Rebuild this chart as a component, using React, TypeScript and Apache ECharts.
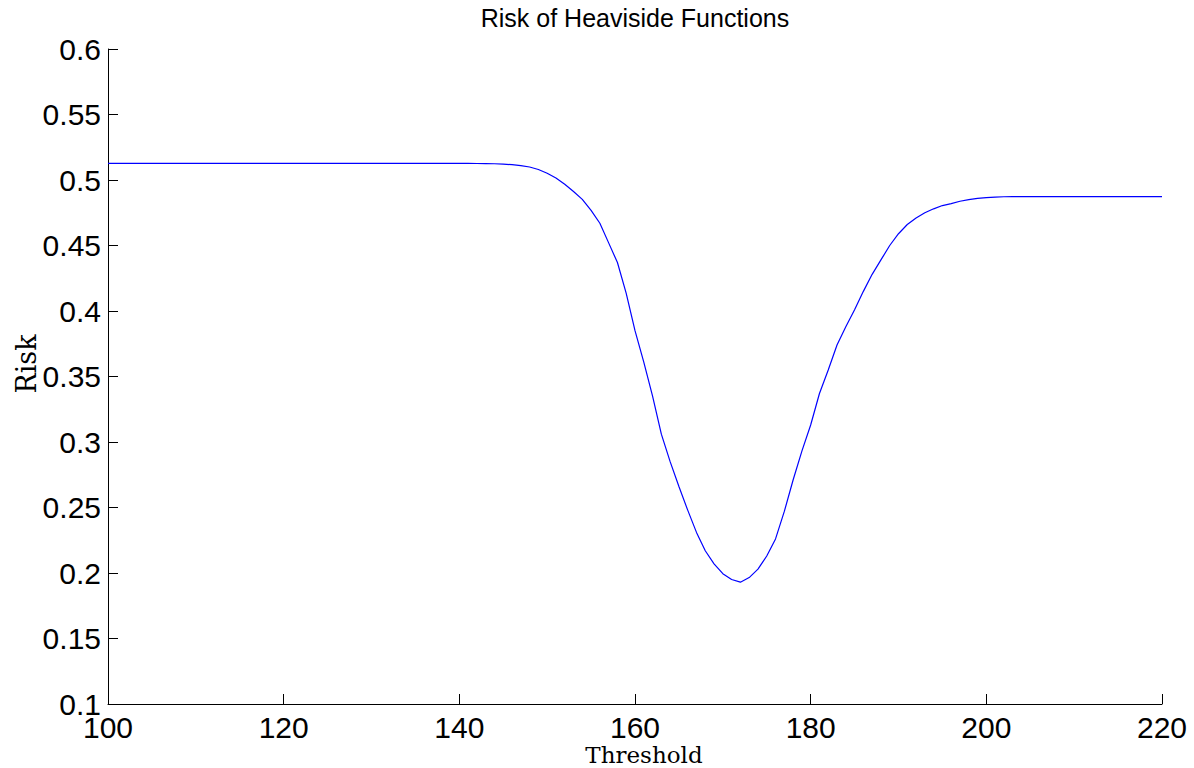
import React, { useEffect, useRef } from "react";
import * as echarts from "echarts";

const thresholds = [
  100, 110, 120, 130, 140, 141, 142, 143, 144, 145, 146, 147, 148, 149, 150,
  151, 152, 153, 154, 155, 156, 157, 158, 159, 160, 161, 162, 163, 164, 165,
  166, 167, 168, 169, 170, 171, 172, 173, 174, 175, 176, 177, 178, 179, 180,
  181, 182, 183, 184, 185, 186, 187, 188, 189, 190, 191, 192, 193, 194, 195,
  196, 197, 198, 199, 200, 201, 202, 203, 205, 210, 220,
];
const risk = [
  0.5127, 0.5127, 0.5127, 0.5127, 0.5127, 0.5127, 0.5126, 0.5125, 0.5124, 0.5121, 0.5117, 0.511, 0.5099, 0.508, 0.5052,
  0.5015, 0.4968, 0.4912, 0.4852, 0.4768, 0.467, 0.452, 0.437, 0.4135, 0.385, 0.361, 0.335, 0.306, 0.285, 0.266,
  0.248, 0.231, 0.217, 0.207, 0.1995, 0.195, 0.193, 0.1965, 0.203, 0.213, 0.226, 0.247, 0.271, 0.293, 0.313,
  0.337, 0.355, 0.374, 0.388, 0.401, 0.415, 0.428, 0.439, 0.45, 0.459, 0.466, 0.471, 0.475, 0.478, 0.4805,
  0.482, 0.4838, 0.485, 0.486, 0.4866, 0.487, 0.4872, 0.4873, 0.4873, 0.4873, 0.4873,
];

const titleText = "Risk of Heaviside Functions";
const xName = "Threshold";
const yName = "Risk";

export default function App() {
  const ref = useRef<HTMLDivElement>(null);
  useEffect(() => {
    if (!ref.current) return;
    const chart = echarts.init(ref.current, undefined, { renderer: "svg" });
    const data = thresholds.map((t, i) => [t, risk[i]]);
    chart.setOption({
      animation: false,
      backgroundColor: "#ffffff",
      grid: { left: 108, top: 49, right: 32, bottom: 64, containLabel: false },
      xAxis: {
        type: "value",
        min: 100,
        max: 220,
        interval: 20,
        axisLine: { show: true, lineStyle: { color: "#000", width: 1 } },
        axisTick: { show: true, inside: true, length: 10, lineStyle: { color: "#000" } },
        splitLine: { show: false },
        axisLabel: {
          color: "#000",
          fontFamily: "Liberation Sans, Arial, sans-serif",
          fontSize: 30,
          margin: 8,
          showMinLabel: true,
          showMaxLabel: true,
        },
      },
      yAxis: {
        type: "value",
        min: 0.1,
        max: 0.6,
        interval: 0.05,
        axisLine: { show: true, lineStyle: { color: "#000", width: 1 } },
        axisTick: { show: true, inside: true, length: 10, lineStyle: { color: "#000" } },
        splitLine: { show: false },
        axisLabel: {
          color: "#000",
          fontFamily: "Liberation Sans, Arial, sans-serif",
          fontSize: 30,
          margin: 7,
          formatter: (v: number) => String(+v.toFixed(2)),
        },
      },
      graphic: [
        {
          type: "text",
          x: 635,
          y: 18,
          style: {
            text: titleText,
            fill: "#000",
            font: "25px Liberation Sans, Arial, sans-serif",
            textAlign: "center",
            textVerticalAlign: "middle",
          },
        },
        {
          type: "text",
          x: 644,
          y: 766,
          style: {
            text: xName,
            fill: "#000",
            font: "23px DejaVu Serif, serif",
            textAlign: "center",
            textVerticalAlign: "bottom",
          },
        },
        {
          type: "text",
          x: 26,
          y: 364,
          rotation: Math.PI / 2,
          style: {
            text: yName,
            fill: "#000",
            font: "27px DejaVu Serif, serif",
            textAlign: "center",
            textVerticalAlign: "middle",
          },
        },
      ],
      series: [
        {
          type: "line",
          data,
          showSymbol: false,
          symbol: "none",
          lineStyle: { color: "#0000ff", width: 1.2 },
          smooth: false,
        },
      ],
    });
    return () => chart.dispose();
  }, []);
  return (
    <div
      ref={ref}
      style={{ position: "fixed", left: 0, top: 0, width: 1194, height: 768, background: "#fff" }}
    />
  );
}
